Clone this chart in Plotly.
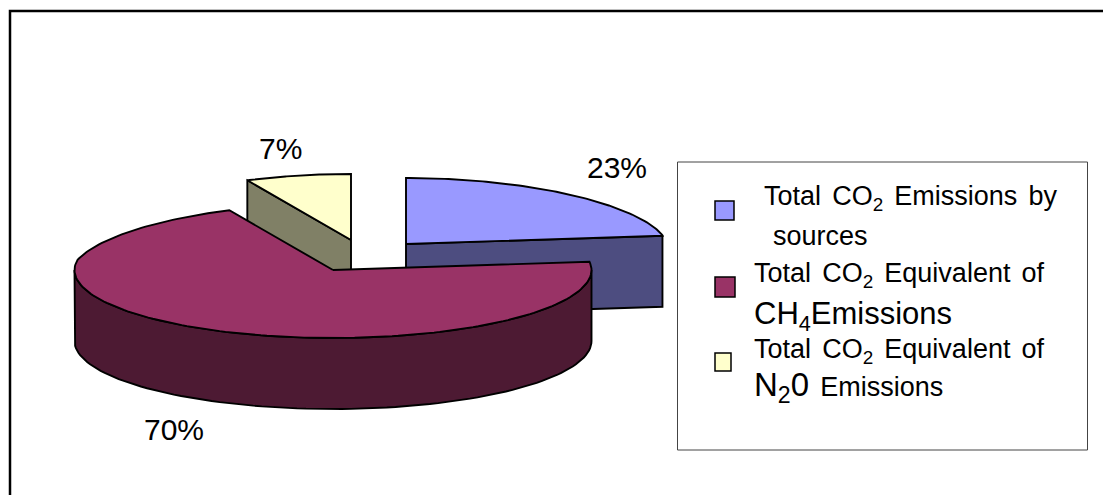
import math
import plotly.graph_objects as go

# ---- data ----
shares = [23, 70, 7]
series_names = [
    "Total CO<sub>2</sub> Emissions by sources",
    "Total CO<sub>2</sub> Equivalent of CH<sub>4</sub>Emissions",
    "Total CO<sub>2</sub> Equivalent of N<sub>2</sub>0 Emissions",
]
top_colors = ["#9999FF", "#993366", "#FFFFCC"]
side_colors = ["#4D4D80", "#4D1A33", "#808066"]

# ---- pie geometry (layout only) ----
RX, RY_BACK, RY_FRONT, DEPTH, PERSPECTIVE = 258.5, 66, 68, 71, 0.077
APEX = [(406, 244), (333, 270), (351, 240)]
LINE = dict(color="black", width=1.9)
FONT = "Liberation Sans, Arial, sans-serif"


def rim(apex, a0, a1, drop=0.0, n=90):
    pts = []
    for i in range(n + 1):
        t = math.radians(a0 + (a1 - a0) * i / n)
        c = math.cos(t)
        ry = RY_BACK if c > 0 else RY_FRONT
        rx = RX * (1 - PERSPECTIVE * max(c - 0.15, 0))
        pts.append((apex[0] + rx * math.sin(t), apex[1] - ry * c + drop))
    return pts


def polygon(pts, color):
    return go.Scatter(
        x=[p[0] for p in pts] + [pts[0][0]],
        y=[p[1] for p in pts] + [pts[0][1]],
        mode="lines",
        fill="toself",
        fillcolor=color,
        line=LINE,
        hoverinfo="skip",
        showlegend=False,
    )


# slice angles, clockwise from 12 o'clock
starts = []
acc = 0.0
total = sum(shares)
for v in shares:
    starts.append(acc)
    acc += 360.0 * v / total
ends = [s + 360.0 * v / total for s, v in zip(starts, shares)]

fig = go.Figure()

# yellow: cut face at its clockwise-start side, then the top
i = 2
a = APEX[i]
edge = rim(a, starts[i], starts[i], n=1)[0]
fig.add_trace(polygon([a, edge, (edge[0], edge[1] + DEPTH), (a[0], a[1] + DEPTH)], side_colors[i]))
fig.add_trace(polygon([a] + rim(a, starts[i], ends[i]), top_colors[i]))

# blue: cut face at its clockwise-end side, then the top
i = 0
a = APEX[i]
edge = rim(a, ends[i], ends[i], n=1)[0]
fig.add_trace(polygon([a, edge, (edge[0], edge[1] + DEPTH), (a[0], a[1] + DEPTH)], side_colors[i]))
fig.add_trace(polygon([a] + rim(a, starts[i], ends[i]), top_colors[i]))

# maroon: outer wall then the top
i = 1
a = APEX[i]
front = rim(a, 90, 270)
fig.add_trace(polygon(front + [(x, y + DEPTH) for x, y in reversed(front)], side_colors[i]))
fig.add_trace(polygon([a] + rim(a, starts[i], ends[i], n=180), top_colors[i]))

# percentage labels
pct_pos = [(617, 167), (174, 429), (280, 148)]
annotations = []
for v, (x, y) in zip(shares, pct_pos):
    annotations.append(dict(x=x, y=y, text=f"{v}%", showarrow=False, xanchor="center", yanchor="middle",
                            font=dict(family=FONT, size=30, color="black")))

# legend text lines: text, left x, middle y, size
gap = "<span style='font-size:13px'>&nbsp;</span>"
big = "font-size:33px"
legend_lines = [
    (f"Total{gap} CO<sub>2</sub>{gap} Emissions{gap} by", 762, 198, 27),
    ("sources", 771, 236, 27),
    (f"Total{gap} CO<sub>2</sub>{gap} Equivalent{gap} of", 752, 275, 27),
    ("CH<sub>4</sub>Emissions", 752, 316, 31),
    (f"Total{gap} CO<sub>2</sub>{gap} Equivalent{gap} of", 752, 351, 27),
    (f"<span style='{big}'>N<sub>2</sub>0</span>&nbsp;{gap}Emissions", 752, 387, 27),
]
for text, x, y, size in legend_lines:
    annotations.append(dict(x=x, y=y, text=text, showarrow=False, xanchor="left", yanchor="middle",
                            font=dict(family=FONT, size=size, color="black")))

shapes = [
    dict(type="rect", x0=10, y0=11, x1=1130, y1=520, line=dict(color="black", width=2.5), layer="below"),
    dict(type="rect", x0=677.5, y0=162, x1=1087.5, y1=450, line=dict(color="#444444", width=1), layer="below"),
]
swatches = [(715, 201, 734, 220), (715, 277, 735, 297), (715, 353, 731, 371)]
for (x0, y0, x1, y1), c in zip(swatches, top_colors):
    shapes.append(dict(type="rect", x0=x0, y0=y0, x1=x1, y1=y1, fillcolor=c, line=dict(color="black", width=1.5)))

fig.update_layout(
    width=1103,
    height=495,
    margin=dict(l=0, r=0, t=0, b=0),
    paper_bgcolor="white",
    plot_bgcolor="white",
    showlegend=False,
    xaxis=dict(range=[0, 1103], visible=False, fixedrange=True),
    yaxis=dict(range=[495, 0], visible=False, fixedrange=True),
    shapes=shapes,
    annotations=annotations,
)

fig.write_html(
    "out.html",
    config=dict(displayModeBar=False),
    post_script="document.body.style.margin='0';document.body.style.overflow='hidden';",
)
